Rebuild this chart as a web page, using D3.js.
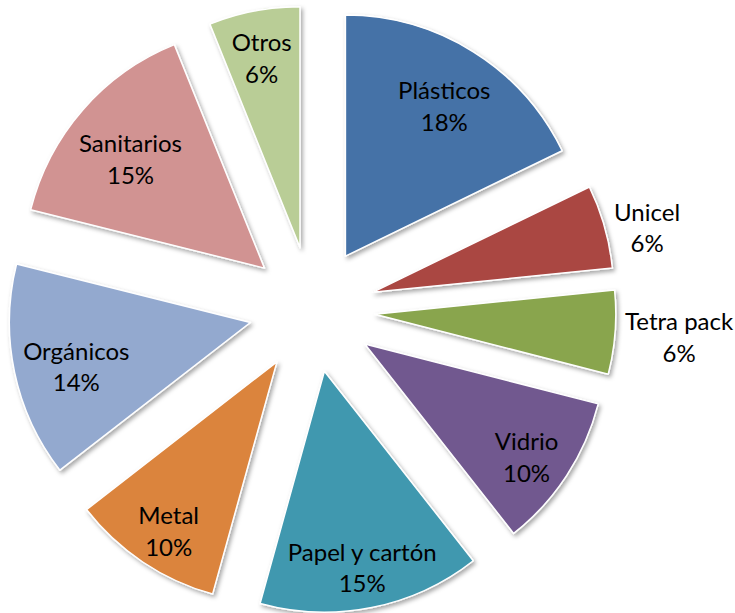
<!DOCTYPE html>
<html><head><meta charset="utf-8">
<script src="https://cdn.jsdelivr.net/npm/d3@7"></script>
<style>html,body{margin:0;padding:0;background:#fff;} svg{display:block}</style>
</head><body>
<svg id="chart" width="735" height="613"></svg>
<script>
const categories = ["Plásticos","Unicel","Tetra pack","Vidrio","Papel y cartón","Metal","Orgánicos","Sanitarios","Otros"];
const values = [17.8, 5.6, 5.6, 10.4, 14.9, 10.2, 14.4, 15.0, 6.1];
const colors = ["#4572A7","#AA4643","#89A54E","#71588F","#4198AF","#DB843D","#93A9CF","#D19392","#B9CD96"];
const outsideLabels = ["Unicel","Tetra pack"];

const W = 735, H = 613;
const cx = 312, cy = 309.5, R = 241, explode = 63;
const fontSize = 24, lineGap = 31.5, capH = 0.72 * fontSize;

const svg = d3.select("#chart");
const defs = svg.append("defs");
const f = defs.append("filter").attr("id","shadow").attr("x","-20%").attr("y","-20%").attr("width","140%").attr("height","140%");
f.append("feDropShadow").attr("dx",2).attr("dy",2.5).attr("stdDeviation",2).attr("flood-color","#000").attr("flood-opacity",0.35);

const total = d3.sum(values);
const fmt = d3.format(".0%");
const data = categories.map((c,i)=>({name:c, value:values[i], color:colors[i]}));
const pie = d3.pie().value(d=>d.value).sort(null).startAngle(0).endAngle(2*Math.PI);
const arcs = pie(data);
const arc = d3.arc().innerRadius(0).outerRadius(R);

const root = svg.append("g").attr("transform",`translate(${cx},${cy})`);

arcs.forEach(a=>{
  const mid = (a.startAngle + a.endAngle)/2;
  const ux = Math.sin(mid), uy = -Math.cos(mid);
  const g = root.append("g").attr("transform",`translate(${explode*ux},${explode*uy})`);
  g.append("path").attr("d",arc(a)).attr("fill",a.data.color)
    .attr("stroke","#fff").attr("stroke-width",1.5).attr("stroke-linejoin","round")
    .attr("filter","url(#shadow)");

  const outside = outsideLabels.includes(a.data.name);
  const lines = [a.data.name, fmt(a.data.value/total)];
  const b1 = -lineGap/2 + capH/2;
  const t = g.append("text").attr("font-family","Lato, 'Open Sans', sans-serif")
    .attr("font-size",fontSize).attr("fill","#000").attr("text-anchor","middle");
  lines.forEach((l,k)=>t.append("tspan").attr("x",0).attr("y",b1 + k*lineGap).text(l));
  const w = d3.max(t.selectAll("tspan").nodes(), n=>n.getComputedTextLength());
  const h = lineGap + 28;
  let lx, ly;
  if (outside) {
    const d = R + 10;
    const ax = d*ux, ay = d*uy;
    lx = ax + w/2; ly = ay + 4;
  } else {
    const halfProj = Math.abs(ux)*w/2 + Math.abs(uy)*h/2;
    const d = R - halfProj - 5;
    lx = d*ux; ly = d*uy + 8;
  }
  t.attr("transform",`translate(${lx},${ly})`);
});
</script>
</body></html>
